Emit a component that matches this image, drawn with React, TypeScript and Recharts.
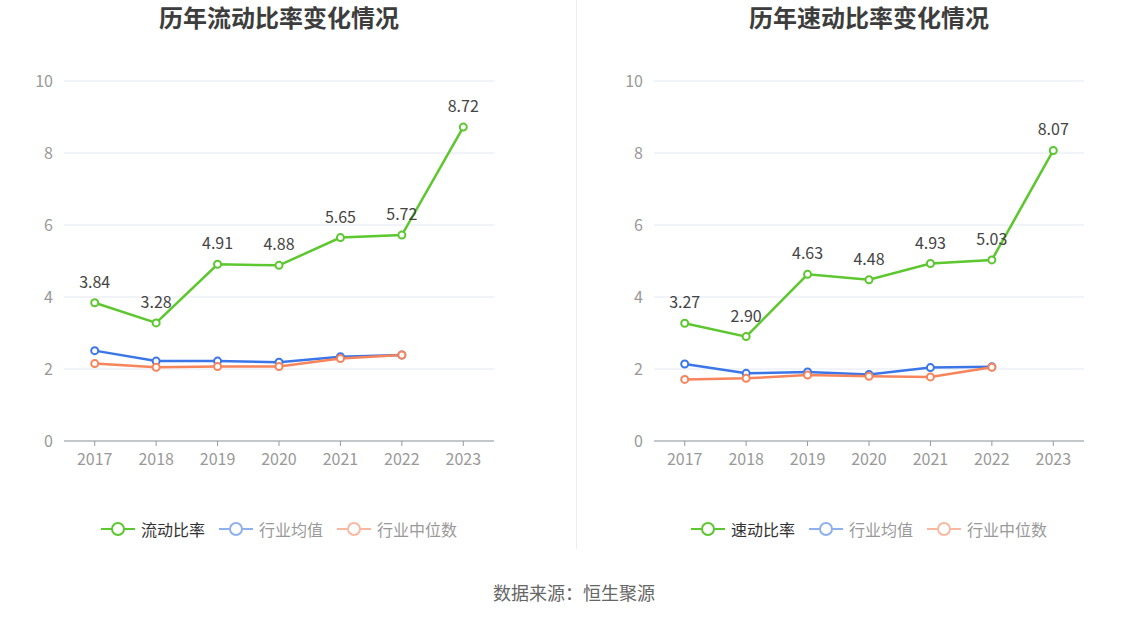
import { LineChart, Line, XAxis, YAxis, CartesianGrid, Legend, LabelList } from 'recharts';

const years = ['2017', '2018', '2019', '2020', '2021', '2022', '2023'];
const yTicks = [0, 2, 4, 6, 8, 10];

const currentRatio = [3.84, 3.28, 4.91, 4.88, 5.65, 5.72, 8.72];
const currentAvg = [2.51, 2.22, 2.22, 2.19, 2.34, 2.39, null];
const currentMedian = [2.15, 2.05, 2.07, 2.07, 2.29, 2.39, null];

const quickRatio = [3.27, 2.9, 4.63, 4.48, 4.93, 5.03, 8.07];
const quickAvg = [2.14, 1.88, 1.92, 1.85, 2.04, 2.06, null];
const quickMedian = [1.71, 1.74, 1.83, 1.8, 1.78, 2.05, null];

const GREEN = '#5cc72e';
const BLUE = '#3b76e8';
const ORANGE = '#f7845a';
const FONT = '"Noto Sans CJK SC", "Noto Sans", sans-serif';

const legendOrder = ['main', 'avg', 'median'];
const legendStyle: Record<string, { icon: string; text: string }> = {
  main: { icon: GREEN, text: '#333333' },
  avg: { icon: '#8fb0ee', text: '#999999' },
  median: { icon: '#f9b9a0', text: '#999999' },
};

function LegendContent({ payload }: any) {
  const items = [...(payload || [])].sort(
    (a: any, b: any) => legendOrder.indexOf(a.dataKey) - legendOrder.indexOf(b.dataKey)
  );
  return (
    <div style={{ display: 'flex', justifyContent: 'center', height: 24, alignItems: 'center' }}>
      {items.map((p: any, i: number) => {
        const s = legendStyle[p.dataKey] || legendStyle.main;
        return (
          <div key={p.dataKey} style={{ display: 'flex', alignItems: 'center', marginLeft: i ? 14 : 0 }}>
            <svg width={34} height={16}>
              <line x1={0} y1={8} x2={34} y2={8} stroke={s.icon} strokeWidth={2} />
              <circle cx={17} cy={8} r={6} fill="#fff" stroke={s.icon} strokeWidth={2} />
            </svg>
            <span style={{ marginLeft: 6, fontSize: 16, color: s.text, fontFamily: FONT }}>{p.value}</span>
          </div>
        );
      })}
    </div>
  );
}

interface RatioChartProps {
  name: string;
  main: number[];
  avg: (number | null)[];
  median: (number | null)[];
  width: number;
}

function RatioChart({ name, main, avg, median, width }: RatioChartProps) {
  const data = years.map((y, i) => ({ year: y, main: main[i], avg: avg[i], median: median[i] }));
  return (
    <LineChart width={width} height={560} data={data} margin={{ top: 81, right: width - 494, left: 14, bottom: 65 }}>
      <CartesianGrid vertical={false} stroke="#e3e8f3" />
      <XAxis
        dataKey="year"
        scale="band"
        tick={{ fill: '#999', fontSize: 16 }}
        axisLine={{ stroke: '#999' }}
        tickLine={{ stroke: '#999' }}
        tickSize={5}
        tickMargin={8}
        height={30}
      />
      <YAxis
        domain={[0, 10]}
        ticks={yTicks}
        width={50}
        axisLine={false}
        tickLine={false}
        tickSize={0}
        tickMargin={11}
        tick={{ fill: '#999', fontSize: 16 }}
      />
      <Legend
        verticalAlign="bottom"
        content={<LegendContent />}
        wrapperStyle={{ left: 64, width: 430, top: 517, bottom: 'auto' }}
      />
      <Line
        dataKey="main"
        name={name}
        stroke={GREEN}
        strokeWidth={2.5}
        dot={{ r: 3.5, fill: '#fff', stroke: GREEN, strokeWidth: 2 }}
        isAnimationActive={false}
      >
        <LabelList
          dataKey="main"
          position="top"
          offset={15}
          fill="#444"
          fontSize={16}
          formatter={(v: any) => Number(v).toFixed(2)}
        />
      </Line>
      <Line
        dataKey="avg"
        name="行业均值"
        stroke={BLUE}
        strokeWidth={2.5}
        dot={{ r: 3.5, fill: '#fff', stroke: BLUE, strokeWidth: 2 }}
        isAnimationActive={false}
      />
      <Line
        dataKey="median"
        name="行业中位数"
        stroke={ORANGE}
        strokeWidth={2.5}
        dot={{ r: 3.5, fill: '#fff', stroke: ORANGE, strokeWidth: 2 }}
        isAnimationActive={false}
      />
    </LineChart>
  );
}

const titleStyle: React.CSSProperties = {
  position: 'absolute',
  top: 3,
  width: 430,
  textAlign: 'center',
  fontSize: 24,
  fontWeight: 'bold',
  color: '#3d3d3d',
  lineHeight: '28px',
};

export default function App() {
  return (
    <div style={{ position: 'absolute', left: 0, top: 0, width: 1148, height: 619, background: '#fff', fontFamily: FONT, overflow: 'hidden' }}>
      <div style={{ position: 'absolute', left: 0, top: 0 }}>
        <RatioChart name="流动比率" main={currentRatio} avg={currentAvg} median={currentMedian} width={576} />
      </div>
      <div style={{ position: 'absolute', left: 590, top: 0 }}>
        <RatioChart name="速动比率" main={quickRatio} avg={quickAvg} median={quickMedian} width={558} />
      </div>
      <div style={{ ...titleStyle, left: 64 }}>历年流动比率变化情况</div>
      <div style={{ ...titleStyle, left: 654 }}>历年速动比率变化情况</div>
      <div style={{ position: 'absolute', left: 576, top: 0, width: 1, height: 549, background: '#eeeeee' }} />
      <div style={{ position: 'absolute', left: 0, top: 580, width: 1148, textAlign: 'center', fontSize: 18, color: '#666', lineHeight: '24px' }}>
        数据来源：恒生聚源
      </div>
    </div>
  );
}
